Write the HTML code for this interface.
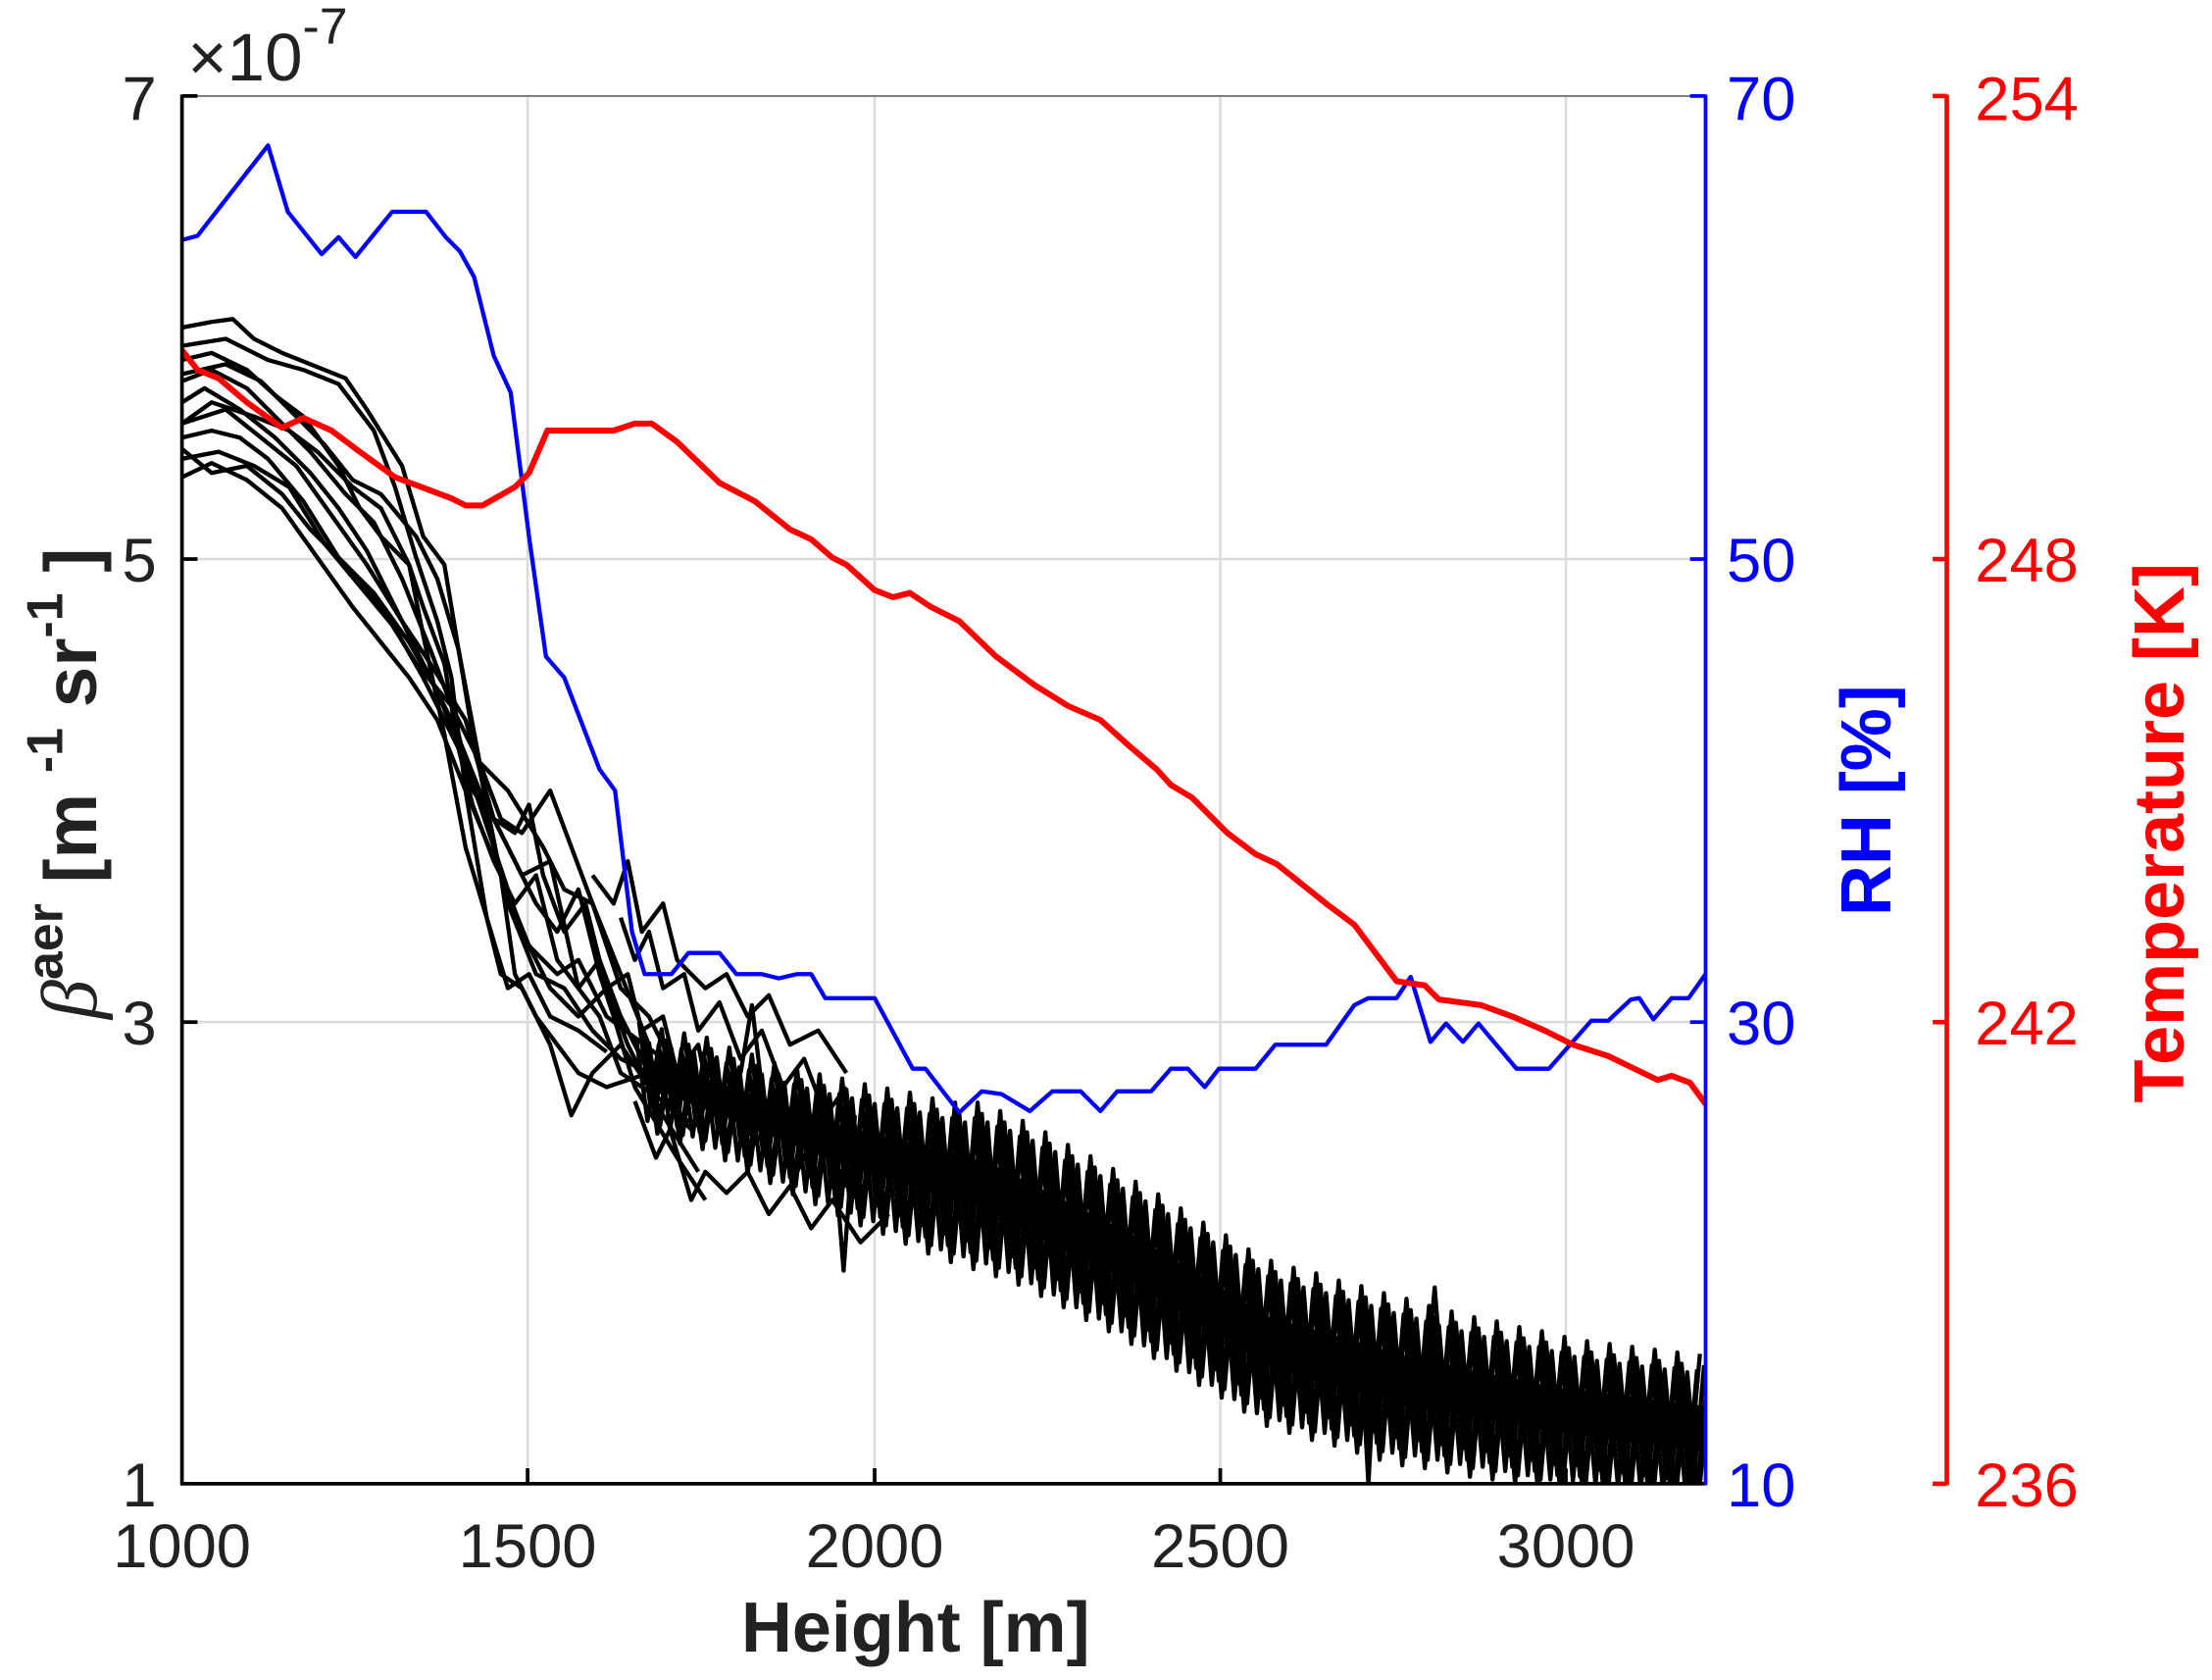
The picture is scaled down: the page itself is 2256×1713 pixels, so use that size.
<!DOCTYPE html>
<html><head><meta charset="utf-8"><style>
html,body{margin:0;padding:0;background:#fff;}
svg{display:block;}
text{font-family:"Liberation Sans",sans-serif;}
</style></head><body>
<svg width="2256" height="1713" viewBox="0 0 1568 1190" preserveAspectRatio="none" xmlns="http://www.w3.org/2000/svg">
<defs><clipPath id="c"><rect x="129" y="68" width="1080" height="983"/></clipPath>
<polyline id="z" fill="none" stroke="#000" stroke-width="3" stroke-linejoin="round" points="456,732 464,791 472,737 480,798 488,740 496,802 504,743 512,810 520,750 528,819 536,755 544,826 552,761 560,834 568,765 576,841 584,769 592,849 600,772 608,856 616,776 624,862 632,779 640,869 648,782 656,876 664,786 672,882 680,789 688,887 696,789 704,892 712,795 720,898 728,802 736,906 744,810 752,914 760,819 768,923 776,827 784,931 792,836 800,940 808,845 816,950 824,854 832,959 840,864 848,969 856,874 864,978 872,883 880,988 888,893 896,998 904,901 912,1003 920,906 928,1008 936,910 944,1012 952,915 960,1017 968,919 976,1022 984,924 992,1026 1000,928 1008,1028 1016,933 1024,1031 1032,937 1040,1034 1048,941 1056,1036 1064,944 1072,1039 1080,948 1088,1042 1096,951 1104,1045 1112,955 1120,1046 1128,958 1136,1049 1144,960 1152,1051 1160,962 1168,1053 1176,964 1184,1055 1192,966 1200,1057 1208,967"/>
</defs>
<rect width="1568" height="1190" fill="#fff"/>
<g stroke="#dcdcdc" stroke-width="1.8">
<line x1="374" y1="68" x2="374" y2="1051"/><line x1="620" y1="68" x2="620" y2="1051"/>
<line x1="865" y1="68" x2="865" y2="1051"/><line x1="1110" y1="68" x2="1110" y2="1051"/>
<line x1="129" y1="396" x2="1209" y2="396"/><line x1="129" y1="724" x2="1209" y2="724"/>
</g>
<g clip-path="url(#c)">
<polygon fill="#000" points="460,750 600,798 700,823 800,873 900,933 1000,961 1100,982 1209,996 1209,1028 1100,1014 1000,995 900,967 800,907 700,857 600,826 460,770"/>
<use href="#z"/>
<use href="#z" transform="translate(4,6)"/>
<use href="#z" transform="translate(-3,-8)"/>
<use href="#z" transform="translate(2,12)"/>
<use href="#z" transform="translate(-5,3)"/>
<g fill="none" stroke="#000" stroke-width="3" stroke-linejoin="round">
<polyline points="129,232 150,228 165,226 180,240 200,250 230,262 245,268 260,290 285,330 300,380 315,400 325,460 335,520 345,570 355,620 365,690 380,720 395,740 410,760 430,770 460,760 480,760"/>
<polyline points="129,245 160,240 190,255 215,262 240,272 265,305 280,345 295,395 310,440 320,480 330,560 345,650 355,690 370,700 390,740 405,790 420,760 440,740 460,770 480,770"/>
<polyline points="129,255 150,250 175,262 195,280 215,295 240,330 255,360 270,380 290,400 300,430 315,470 325,530 335,570 350,610 365,640 380,620 395,680 410,700 425,720 440,760 470,780 490,800"/>
<polyline points="129,270 150,262 175,275 200,300 220,320 245,350 265,370 285,410 305,460 320,500 335,560 350,580 365,590 375,570 385,620 400,660 415,640 430,700 445,740 470,790 495,830"/>
<polyline points="129,285 145,275 170,290 195,310 220,335 240,360 260,390 280,430 300,470 320,510 340,560 360,600 380,640 395,660 410,630 425,690 435,720 450,770 480,820 500,850"/>
<polyline points="129,300 160,290 185,310 210,330 235,365 260,400 285,440 305,470 330,510 350,580 370,620 390,610 410,700 425,680 440,720 460,760 480,790 500,800"/>
<polyline points="129,310 150,305 170,310 190,325 215,355 240,395 265,420 290,455 310,490 330,540 350,600 370,660 390,700 410,720 430,700 450,740 470,770"/>
<polyline points="129,325 155,320 180,330 205,345 230,385 255,415 280,445 300,480 320,520 340,560 360,640 380,690 400,700 420,730 440,750 460,760"/>
<polyline points="129,338 150,328 175,340 200,360 225,395 250,430 270,455 290,480 310,510 330,560 355,620 375,670 395,690 410,680 430,720 450,735 470,750"/>
<polyline points="129,300 150,285 180,295 205,305 225,320 250,345 270,360 290,400 300,450 315,520 330,600 345,650 360,700 375,690 390,720 410,730 430,745"/>
<polyline points="129,265 160,258 185,270 205,290 230,315 250,340 270,350 295,380 310,410 325,460 340,540 355,580 370,590 390,560 405,600 420,640 440,690 460,740"/>
<polyline points="129,318 150,335 175,330 200,350 220,375 245,400 270,430 295,470 320,500 340,540 360,560 385,600 400,630 420,640 440,700 460,720 480,760"/>
<polyline points="430,700 445,690 455,730 470,720 480,760 495,740 505,790 520,770 535,810 550,790 565,830 580,800 600,840 620,820"/>
<polyline points="440,650 450,680 460,660 470,700 485,690 495,730 510,710 525,750 540,730 555,770 570,750 585,790 600,770"/>
<polyline points="450,780 465,820 475,800 490,850 500,830 515,845 530,830 545,860 560,840 575,870 590,850 610,880 630,860"/>
<polyline points="420,620 435,640 445,610 455,660 470,640 480,680 500,700 515,690 530,720 545,705 560,740 580,730 600,760"/>
<polyline points="525,760 533,712 540,770"/>
<polyline points="590,800 598,900 606,790"/>
<polyline points="965,960 970,1051 975,960"/>
<polyline points="1010,990 1017,912 1024,1000"/>
</g>
</g>
<polyline clip-path="url(#c)" fill="none" stroke="#0000ff" stroke-width="3" stroke-linejoin="round" points="129,170 140,167 190,103 204,150 228,180 240,168 252,182 278,150 302,150 316,168 326,178 336,196 350,252 362,278 375,380 387,465 400,480 425,545 436,560 448,660 457,690 476,690 488,675 510,675 522,690 540,690 552,693 565,690 575,690 585,707 620,707 647,757 656,757 680,788 696,773 710,775 730,787 746,773 766,773 780,787 792,773 816,773 830,757 842,757 854,770 864,757 890,757 904,740 940,740 960,712 970,707 990,707 1000,692 1014,738 1025,725 1037,738 1048,725 1075,757 1098,757 1128,723 1140,723 1156,708 1162,707 1172,722 1185,707 1197,707 1209,690"/>
<polyline clip-path="url(#c)" fill="none" stroke="#ff0000" stroke-width="4.2" stroke-linejoin="round" points="129,248 140,262 155,268 175,285 200,303 215,296 235,305 255,320 280,338 320,353 330,358 342,358 365,345 375,335 388,305 435,305 450,300 462,300 480,313 510,342 535,355 560,375 575,382 590,395 600,400 620,418 633,423 645,420 660,430 680,440 706,465 733,485 757,500 780,510 800,528 820,545 830,556 845,565 870,590 890,605 905,612 940,640 960,655 990,695 1010,698 1020,708 1050,712 1072,720 1095,730 1115,740 1140,748 1175,765 1185,762 1198,767 1209,782"/>
<line x1="129" y1="68" x2="1209" y2="68" stroke="#777" stroke-width="1.3"/>
<line x1="129" y1="67" x2="129" y2="1052" stroke="#000" stroke-width="2.6"/>
<line x1="128" y1="1051" x2="1209" y2="1051" stroke="#000" stroke-width="2.6"/>
<line x1="1209" y1="67" x2="1209" y2="1052" stroke="#0000ff" stroke-width="2.6"/>
<g stroke="#000" stroke-width="2.6">
<line x1="129" y1="68" x2="140" y2="68"/><line x1="129" y1="396" x2="140" y2="396"/><line x1="129" y1="724" x2="140" y2="724"/>
<line x1="374" y1="1051" x2="374" y2="1040"/><line x1="620" y1="1051" x2="620" y2="1040"/><line x1="865" y1="1051" x2="865" y2="1040"/><line x1="1110" y1="1051" x2="1110" y2="1040"/>
</g>
<g stroke="#0000ff" stroke-width="2.6">
<line x1="1198" y1="68" x2="1209" y2="68"/><line x1="1198" y1="396" x2="1209" y2="396"/><line x1="1198" y1="724" x2="1209" y2="724"/>
</g>
<g stroke="#ff0000" stroke-width="3.2">
<line x1="1380" y1="67" x2="1380" y2="1052"/>
<line x1="1370" y1="68" x2="1380" y2="68"/><line x1="1370" y1="396" x2="1380" y2="396"/><line x1="1370" y1="724" x2="1380" y2="724"/><line x1="1370" y1="1051" x2="1380" y2="1051"/>
</g>
<g font-size="44" fill="#222">
<text x="111" y="85" text-anchor="end">7</text>
<text x="111" y="412" text-anchor="end">5</text>
<text x="111" y="740" text-anchor="end">3</text>
<text x="111" y="1067" text-anchor="end">1</text>
<text x="129" y="1110" text-anchor="middle">1000</text>
<text x="374" y="1110" text-anchor="middle">1500</text>
<text x="620" y="1110" text-anchor="middle">2000</text>
<text x="865" y="1110" text-anchor="middle">2500</text>
<text x="1110" y="1110" text-anchor="middle">3000</text>
</g>
<text x="133" y="57" font-size="48" fill="#222">×10<tspan font-size="36" dy="-26">-7</tspan></text>
<g font-size="44" fill="#0000ff">
<text x="1224" y="85">70</text><text x="1224" y="412">50</text><text x="1224" y="740">30</text><text x="1224" y="1067">10</text>
</g>
<g font-size="44" fill="#ff0000">
<text x="1400" y="85">254</text><text x="1400" y="412">248</text><text x="1400" y="740">242</text><text x="1400" y="1067">236</text>
</g>
<text x="649" y="1170" font-size="50" font-weight="bold" fill="#222" text-anchor="middle">Height [m]</text>
<text transform="translate(1340,567) rotate(-90)" font-size="50" font-weight="bold" fill="#0000ff" text-anchor="middle">RH [%]</text>
<text transform="translate(1548,590) rotate(-90)" font-size="50" font-weight="bold" fill="#ff0000" text-anchor="middle">Temperature [K]</text>
<text transform="translate(68,555) rotate(-90)" font-size="52" font-weight="bold" fill="#222" text-anchor="middle"><tspan font-family="Liberation Serif" font-style="italic" font-weight="normal" font-size="56">β</tspan><tspan font-size="36" dy="-24">aer</tspan><tspan dy="24">  [m </tspan><tspan font-size="36" dy="-24">-1</tspan><tspan dy="24"> sr</tspan><tspan font-size="36" dy="-24">-1</tspan><tspan dy="24"> ]</tspan></text>
</svg>
</body></html>
